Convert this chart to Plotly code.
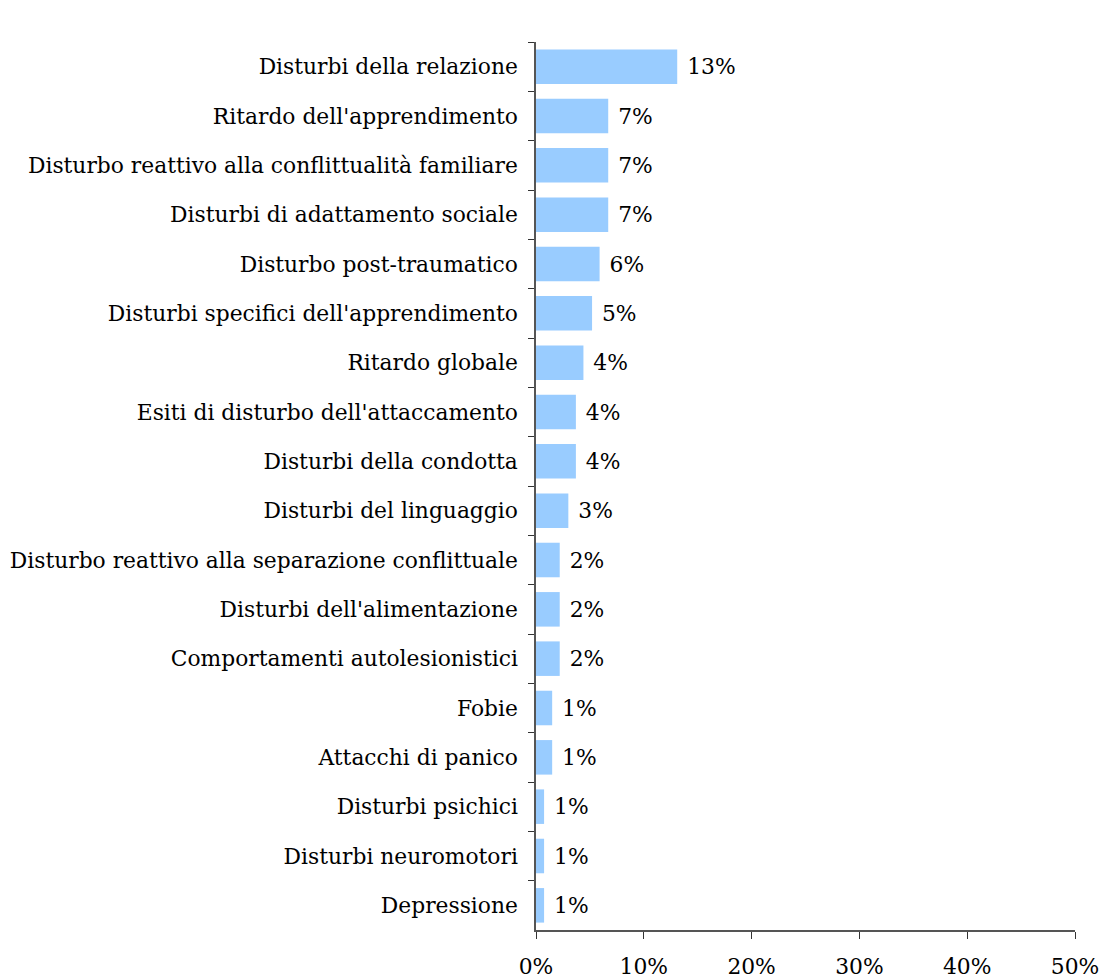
import plotly.graph_objects as go

categories = [
    "Disturbi della relazione",
    "Ritardo dell'apprendimento",
    "Disturbo reattivo alla conflittualità familiare",
    "Disturbi di adattamento sociale",
    "Disturbo post-traumatico",
    "Disturbi specifici dell'apprendimento",
    "Ritardo globale",
    "Esiti di disturbo dell'attaccamento",
    "Disturbi della condotta",
    "Disturbi del linguaggio",
    "Disturbo reattivo alla separazione conflittuale",
    "Disturbi dell'alimentazione",
    "Comportamenti autolesionistici",
    "Fobie",
    "Attacchi di panico",
    "Disturbi psichici",
    "Disturbi neuromotori",
    "Depressione",
]
values = [0.131, 0.067, 0.067, 0.067, 0.059, 0.052, 0.044, 0.037, 0.037, 0.030,
          0.022, 0.022, 0.022, 0.015, 0.015, 0.0075, 0.0075, 0.0075]
labels = ["13%", "7%", "7%", "7%", "6%", "5%", "4%", "4%", "4%", "3%",
          "2%", "2%", "2%", "1%", "1%", "1%", "1%", "1%"]
x_ticks = [0, 0.1, 0.2, 0.3, 0.4, 0.5]
x_ticklabels = ["0%", "10%", "20%", "30%", "40%", "50%"]

FONT = "DejaVu Serif"
FS = 21.8

fig = go.Figure(go.Bar(
    x=values,
    y=categories,
    orientation="h",
    marker=dict(color="#99CCFF", line=dict(width=0)),
    text=labels,
    texttemplate=" %{text}",
    textposition="outside",
    textfont=dict(family=FONT, size=FS, color="#000000"),
    cliponaxis=False,
))

fig.update_layout(
    width=1100,
    height=980,
    autosize=False,
    margin=dict(l=536, r=25, t=42, b=50),
    plot_bgcolor="#ffffff",
    paper_bgcolor="#ffffff",
    bargap=0.3,
    showlegend=False,
    font=dict(family=FONT, size=FS, color="#000000"),
)
fig.update_xaxes(
    range=[0, 0.5],
    tickvals=x_ticks,
    ticktext=x_ticklabels,
    automargin=False,
    showgrid=False,
    zeroline=False,
    showline=True,
    linecolor="#555555",
    linewidth=1.5,
    ticks="outside",
    ticklen=7,
    tickcolor="#333333",
    tickwidth=1,
    ticklabelstandoff=9,
    tickfont=dict(family=FONT, size=FS, color="#000000"),
)
fig.update_yaxes(
    autorange="reversed",
    automargin=False,
    showgrid=False,
    zeroline=False,
    showline=True,
    linecolor="#555555",
    linewidth=1.5,
    ticks="outside",
    tickson="boundaries",
    ticklen=6,
    tickcolor="#333333",
    tickwidth=1,
    ticklabelstandoff=12,
    tickfont=dict(family=FONT, size=FS, color="#000000"),
)

fig.write_html(
    "out.html",
    config={"displayModeBar": False},
    post_script="document.body.style.margin='0';document.body.style.overflow='hidden';",
)
